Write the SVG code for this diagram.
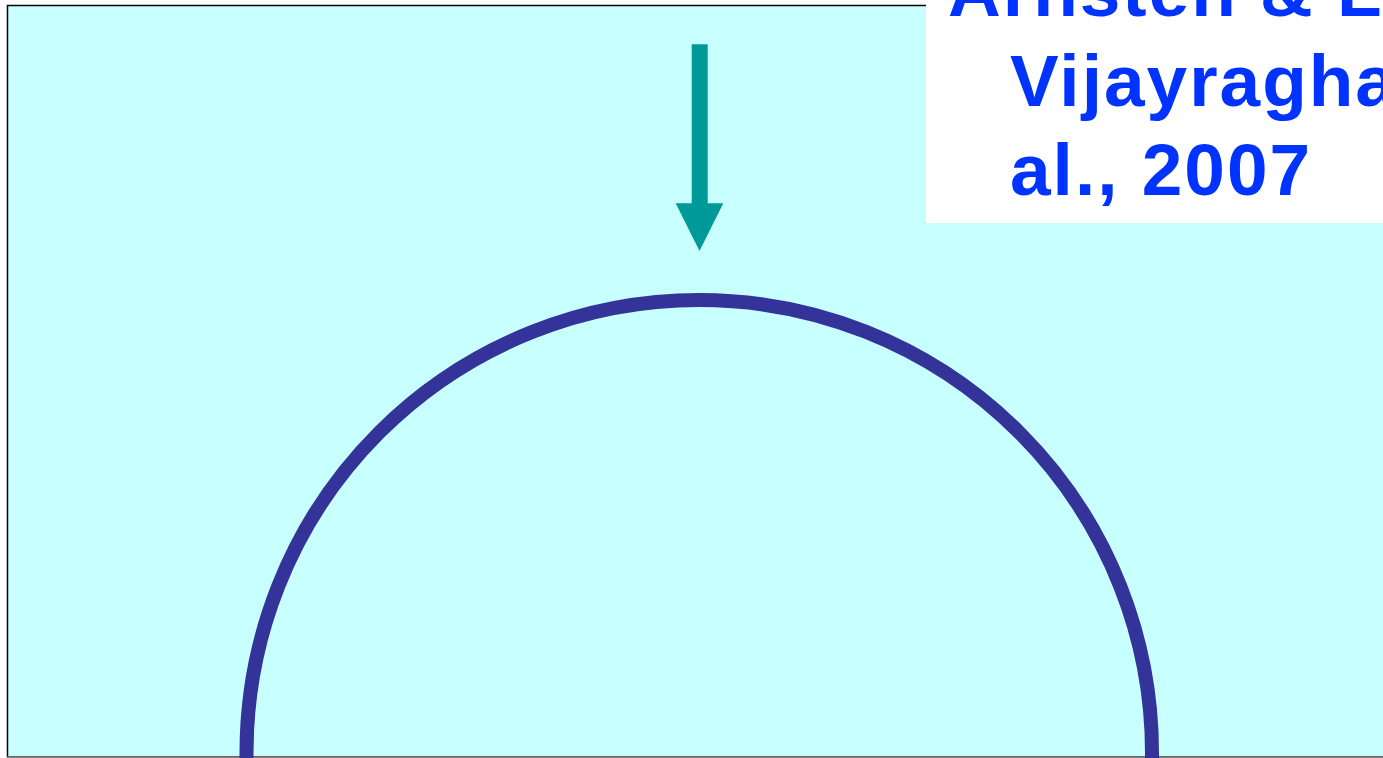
<svg xmlns="http://www.w3.org/2000/svg" width="1383" height="758" viewBox="0 0 1383 758">
<style>
.lbl{font-family:"Liberation Sans",Arial,sans-serif;font-weight:bold;font-size:73px;fill:#0033FF;letter-spacing:2px}
</style>
<rect x="0" y="0" width="1383" height="758" fill="#ffffff"/>
<g id="background">
<rect x="7.5" y="5.5" width="1390" height="751.5" fill="#C8FFFF" stroke="#000000" stroke-width="1.5"/>
<line x1="7" y1="757.2" x2="1383" y2="757.2" stroke="#888888" stroke-width="1.5"/>
</g>
<g id="cell">
<path d="M 246.5 758 L 246.5 752.75 A 452.75 452.75 0 0 1 1152 752.75 L 1152 758" fill="none" stroke="#333399" stroke-width="14"/>
</g>
<g id="connectors">
<path d="M 691.7 44.3 L 707.7 44.3 L 707.7 203.3 L 723.3 203.3 L 699.5 251 L 675.7 203.3 L 691.7 203.3 Z" fill="#009999"/>
</g>
<g id="citation">
<rect x="926" y="0" width="457" height="223" fill="#ffffff"/>
<text class="lbl" x="948" y="16">Arnsten &amp; Li</text>
<text class="lbl" x="1010" y="106">Vijayragha</text>
<text class="lbl" x="1010" y="195">al., 2007</text>
</g>
</svg>
